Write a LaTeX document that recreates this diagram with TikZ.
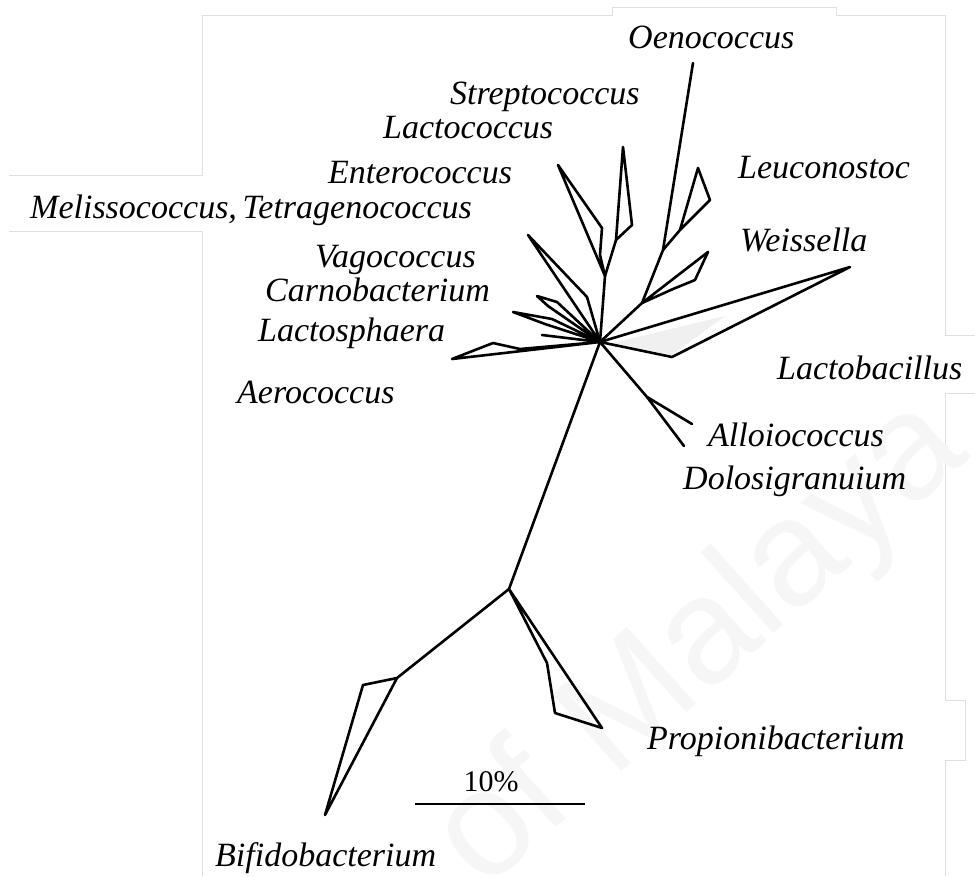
\documentclass[tikz,border=0pt]{standalone}
\usepackage{fontspec}
\setmainfont{Liberation Serif}
\setsansfont{Liberation Sans}
\begin{document}
\begin{tikzpicture}[x=1pt,y=-1pt,
  br/.style={line width=2.6pt, line join=round, line cap=round},
  lbl/.style={font=\fontsize{34}{40}\selectfont\itshape, inner sep=0pt, anchor=base west},
  pagefr/.style={gray!25, line width=0.8pt},
  wmark/.style={font=\sffamily\fontsize{150}{150}\selectfont, text=gray!7, inner sep=0pt, anchor=base west, rotate=42}]
\useasboundingbox (0,0) rectangle (975,876);
\clip (0,0) rectangle (975,876);
\fill[white] (0,0) rectangle (975,876);
% page frame
\draw[pagefr] (9,175) -- (202,175) -- (202,15) -- (612,15) -- (612,7) -- (836,7) -- (836,15) -- (945,15) -- (945,335) -- (975,335);
\draw[pagefr] (975,393) -- (945,393) -- (945,700) -- (965,700) -- (965,760) -- (945,760) -- (945,876);
\draw[pagefr] (9,231) -- (202,231) -- (202,876);
% watermark
\node[wmark] (wm) at (612,780) {Malaya};
\node[wmark, anchor=base east] (wmof) at (578,808) {of};
% tree coordinates
\coordinate (H) at (600,342);
\coordinate (J1) at (605,276);
\coordinate (J2) at (642,303);
\coordinate (J3) at (663,250);
\coordinate (J4) at (509,589);
\coordinate (J5) at (397,678);
\coordinate (J6) at (547,663);
\coordinate (JA) at (647,397);
\coordinate (oeno) at (693,63);
% tree
\fill[gray!12] (612,343) -- (725,316) -- (672,355) -- cycle;
\draw[br] (H) -- (J1);
\draw[br] (J1) -- (558,165) -- (602,228) -- (600,255) -- cycle;
\draw[br] (J1) -- (616,240) -- (623,147) -- (632,225) -- (616,240);
\draw[br] (H) -- (J2) -- (J3) -- (oeno);
\draw[br] (J3) -- (680,230) -- (698,168) -- (710,200) -- (680,230);
\draw[br] (J2) -- (708,252) -- (695,280) -- (673,289) -- (J2);
\draw[br] (H) -- (850,267) -- (672,357) -- cycle;
\draw[br] (H) -- (JA) -- (692,424);
\draw[br] (JA) -- (684,446);
\draw[br] (H) -- (528,235) -- (587,297) -- cycle;
\draw[br] (H) -- (548,306) -- (537,296) -- (557,302) -- cycle;
\draw[br] (H) -- (545,324) -- (513,312) -- (552,319) -- cycle;
\draw[br] (H) -- (542,335);
\draw[br] (H) -- (452,359) -- (493,343) -- (520,349) -- cycle;
\draw[br] (H) -- (J4);
\draw[br] (J4) -- (J5) -- (363,685) -- (325,815) -- (J5);
\draw[br] (J4) -- (J6) -- (555,713) -- (602,728) -- cycle;
% scale bar
\coordinate (sbl) at (415,804);
\coordinate (sbr) at (585,804);
\draw[line width=2.4pt] (sbl) -- (sbr);
\node[font=\fontsize{30}{36}\selectfont, inner sep=0pt, anchor=base] (pct) at (491,791) {10\%};
% labels
\node[lbl] (l1) at (628,48) {Oenococcus};
\node[lbl] (l2) at (450,104) {Streptococcus};
\node[lbl] (l3) at (383,138) {Lactococcus};
\node[lbl] (l4) at (328,183) {Enterococcus};
\node[lbl] (l5) at (30,218) {Melissococcus,\,Tetragenococcus};
\node[lbl] (l6) at (738,178) {Leuconostoc};
\node[lbl] (l7) at (740,251) {Weissella};
\node[lbl] (l8) at (315,267) {Vagococcus};
\node[lbl] (l9) at (265,301) {Carnobacterium};
\node[lbl] (l10) at (258,341) {Lactosphaera};
\node[lbl] (l11) at (237,403) {Aerococcus};
\node[lbl] (l12) at (777,379) {Lactobacillus};
\node[lbl] (l13) at (708,446) {Alloiococcus};
\node[lbl] (l14) at (683,489) {Dolosigranuium};
\node[lbl] (l15) at (647,749) {Propionibacterium};
\node[lbl] (l16) at (215,866) {Bifidobacterium};
\end{tikzpicture}
\end{document}
